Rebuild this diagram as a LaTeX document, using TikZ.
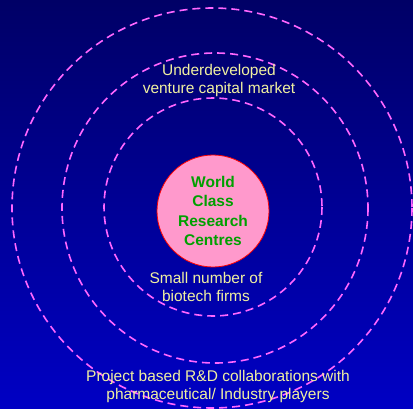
\documentclass[tikz,border=0pt]{standalone}
\usepackage{fontspec}
\setmainfont{Liberation Sans}
\begin{document}
\begin{tikzpicture}[x=1pt,y=-1pt,
  ring/.style={draw=ringpink,line width=1.6pt,dash pattern=on 8pt off 5pt},
  label/.style={text=labelyellow,font=\fontsize{15.5}{18}\selectfont,align=center,inner sep=0pt},
  core/.style={circle,draw=red,line width=0.8pt,fill=corepink,minimum size=112pt,inner sep=0pt,
    text=coregreen,font=\bfseries\fontsize{15.5}{19.5}\selectfont,align=center}]
\definecolor{ringpink}{RGB}{255,102,255}
\definecolor{labelyellow}{RGB}{240,240,160}
\definecolor{corepink}{RGB}{255,153,204}
\definecolor{coregreen}{RGB}{0,160,0}
\definecolor{bgtop}{RGB}{0,0,102}
\definecolor{bgbot}{RGB}{0,0,196}
\shade[top color=bgtop,bottom color=bgbot] (0,0) rectangle (413,408);
\useasboundingbox (0,0) rectangle (413,408);
\draw[ring] (212,208) circle (200);
\draw[ring] (215,208) ellipse (153 and 155);
\draw[ring] (213,207) circle (109);
\node[core] (core) at (213,211) {World\\Class\\Research\\Centres};
\node[label] (vc) at (219,80) {Underdeveloped\\venture capital market};
\node[label] (bio) at (206,287) {Small number of\\biotech firms};
\node[label] (rd) at (218,386) {Project based R\&D collaborations with\\pharmaceutical/ Industry players};
\end{tikzpicture}
\end{document}
